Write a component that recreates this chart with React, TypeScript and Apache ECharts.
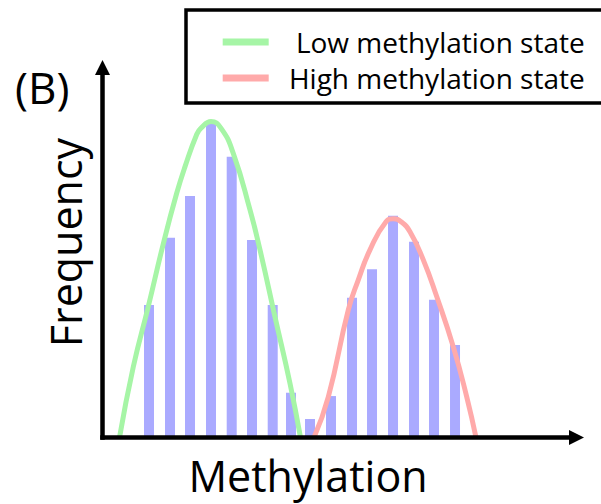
import React, { useEffect, useRef } from 'react';
import * as echarts from 'echarts';

// Histogram bins (methylation level, frequency)
const binCenters = [9.81, 14.24, 18.46, 22.89, 27.26, 31.54, 35.91, 39.77, 43.78, 48.21, 52.64, 56.86, 61.29, 65.72, 69.94, 74.37];
const binFrequencies = [35.8, 54.0, 65.3, 85.0, 75.9, 53.4, 35.8, 12.1, 5.0, 11.2, 37.8, 45.5, 59.9, 52.9, 37.2, 25.0];

// Fitted curves
const lowCurveX = [3.59, 6.5, 9.66, 12.97, 15.65, 17.41, 19.87, 20.78, 22.89, 24.99, 27.59, 31.12, 33.23, 36.39, 39.56, 41.77];
const lowCurveY = [0, 19.1, 35.4, 53.1, 66.0, 73.2, 81.9, 83.6, 85.4, 83.6, 76.8, 61.5, 50.7, 32.6, 14.6, 0];
const highCurveX = [44.62, 47.64, 51.86, 53.97, 56.43, 59.81, 61.39, 63.0, 64.87, 67.68, 70.51, 74.01, 76.84, 78.8];
const highCurveY = [0, 11.0, 34.5, 42.6, 50.7, 58.3, 59.1, 58.3, 55.6, 48.0, 38.1, 24.5, 11.0, 0];

const seriesNames = ['Low methylation state', 'High methylation state'];
const xTitle = 'Methylation';
const yTitle = 'Frequency';
const panelLabel = '(B)';

const FONT = "'Open Sans', 'Noto Sans', sans-serif";

export default function App() {
  const ref = useRef<HTMLDivElement>(null);
  useEffect(() => {
    if (!ref.current) return;
    const chart = echarts.init(ref.current, undefined, { renderer: 'svg' });
    const arrow = 'path://M5,0 L10,10 L0,10 Z';
    const axisLine = {
      show: true,
      lineStyle: { color: '#000', width: 4.5, cap: 'square' },
      symbol: ['none', arrow],
      symbolSize: [15, 17],
    };
    chart.setOption({
      animation: false,
      backgroundColor: '#fff',
      grid: { left: 102.5, right: 24.5, top: 67.5, bottom: 66.5 },
      xAxis: {
        type: 'value', min: 0, max: 100, z: 10,
        axisLine, axisTick: { show: false }, axisLabel: { show: false }, splitLine: { show: false },
      },
      yAxis: {
        type: 'value', min: 0, max: 100, z: 10,
        axisLine, axisTick: { show: false }, axisLabel: { show: false }, splitLine: { show: false },
      },
      legend: {
        orient: 'vertical', left: 186, top: 10,
        padding: [18, 60, 11, 36.7],
        borderColor: '#000', borderWidth: 3.5, backgroundColor: '#fff',
        itemWidth: 46, itemHeight: 7, itemGap: 8,
        icon: 'rect',
        data: seriesNames,
        formatter: (name: string) => `{t|${name}}`,
        textStyle: {
          fontSize: 28, fontFamily: FONT, lineHeight: 28, color: '#000',
          rich: {
            t: { width: 311, align: 'right', fontSize: 28, fontFamily: FONT, lineHeight: 28, color: '#000' },
          },
        },
      },
      graphic: [
        { type: 'text', x: 15, y: 87, style: { text: panelLabel, fontSize: 44, fontFamily: FONT, fill: '#000', align: 'left', verticalAlign: 'middle' } },
        { type: 'text', x: 65, y: 242.5, rotation: Math.PI / 2, style: { text: yTitle, fontSize: 43, fontFamily: FONT, fill: '#000', align: 'center', verticalAlign: 'middle' } },
        { type: 'text', x: 308, y: 475, style: { text: xTitle, fontSize: 43, fontFamily: FONT, fill: '#000', align: 'center', verticalAlign: 'middle' } },
      ],
      series: [
        {
          type: 'bar', name: 'bins', z: 2, barWidth: 10,
          itemStyle: { color: '#aaaaff' },
          data: binCenters.map((x, i) => [x, binFrequencies[i]]),
        },
        {
          type: 'line', name: seriesNames[0], z: 3, smooth: true, showSymbol: false, symbol: 'none',
          itemStyle: { color: '#a6f5a6' }, lineStyle: { color: '#a6f5a6', width: 5 },
          data: lowCurveX.map((x, i) => [x, lowCurveY[i]]),
        },
        {
          type: 'line', name: seriesNames[1], z: 3, smooth: true, showSymbol: false, symbol: 'none',
          itemStyle: { color: '#ffaaaa' }, lineStyle: { color: '#ffaaaa', width: 5 },
          data: highCurveX.map((x, i) => [x, highCurveY[i]]),
        },
      ],
    });
    return () => chart.dispose();
  }, []);
  return (
    <div
      ref={ref}
      style={{ position: 'fixed', left: 0, top: 0, width: 601, height: 504, background: '#fff' }}
    />
  );
}
